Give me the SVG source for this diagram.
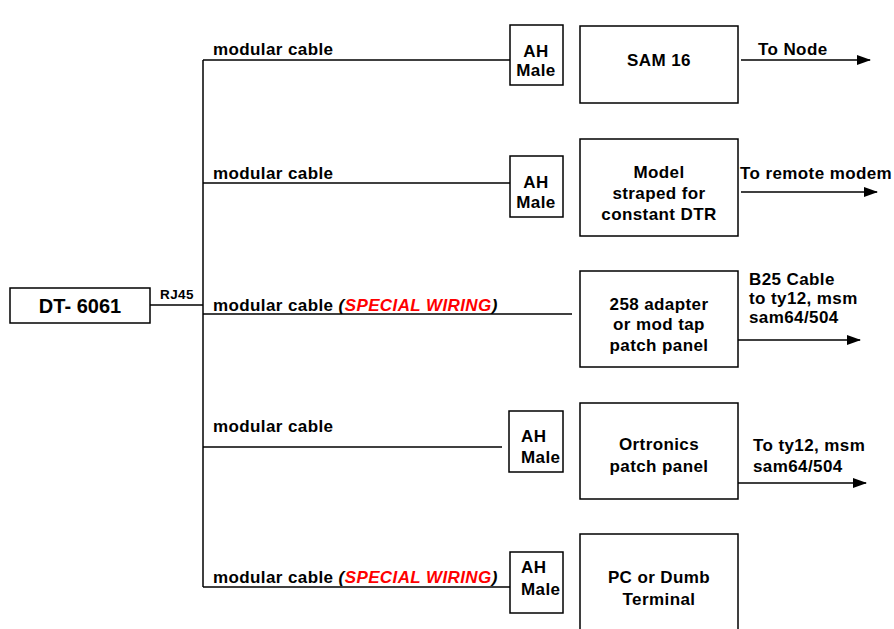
<svg xmlns="http://www.w3.org/2000/svg" width="894" height="629" viewBox="0 0 894 629">
<style>
text{font-family:"Liberation Sans",Arial,sans-serif;font-weight:bold;fill:#000;font-size:17px;letter-spacing:0.4px}
.box{fill:#fff;stroke:#000;stroke-width:1.5}
.ln{fill:none;stroke:#000;stroke-width:1.5}
.c{text-anchor:middle}
.red{fill:#ff0000;font-style:italic}
.it{font-style:italic}
</style>
<defs>
<marker id="arr" markerWidth="14" markerHeight="10" refX="13" refY="5" orient="auto" markerUnits="userSpaceOnUse">
<path d="M0,0 L14,5 L0,10 Z" fill="#000"/>
</marker>
</defs>
<g id="connectors">
<line class="ln" x1="150" y1="305" x2="203" y2="305"/>
<line class="ln" x1="203" y1="60" x2="203" y2="587"/>
<line class="ln" x1="203" y1="60" x2="510" y2="60"/>
<line class="ln" x1="203" y1="183" x2="510" y2="183"/>
<line class="ln" x1="203" y1="314" x2="572" y2="314"/>
<line class="ln" x1="203" y1="447" x2="502" y2="447"/>
<line class="ln" x1="203" y1="587" x2="510" y2="587"/>
<line class="ln" x1="741" y1="60" x2="870" y2="60" marker-end="url(#arr)"/>
<line class="ln" x1="741" y1="192" x2="877" y2="192" marker-end="url(#arr)"/>
<line class="ln" x1="738" y1="340" x2="860" y2="340" marker-end="url(#arr)"/>
<line class="ln" x1="738" y1="483" x2="866" y2="483" marker-end="url(#arr)"/>
<text x="160" y="299" style="font-size:13.5px">RJ45</text>
<text x="213" y="55">modular cable</text>
<text x="213" y="179">modular cable</text>
<text x="213" y="311">modular cable <tspan class="it">(</tspan><tspan class="red">SPECIAL WIRING</tspan><tspan class="it">)</tspan></text>
<text x="213" y="432">modular cable</text>
<text x="213" y="583">modular cable <tspan class="it">(</tspan><tspan class="red">SPECIAL WIRING</tspan><tspan class="it">)</tspan></text>
<text x="758" y="55">To Node</text>
<text x="740" y="179">To remote modem</text>
<text x="749" y="285">B25 Cable</text>
<text x="749" y="304">to ty12, msm</text>
<text x="749" y="323">sam64/504</text>
<text x="753" y="451">To ty12, msm</text>
<text x="753" y="472">sam64/504</text>
</g>
<g id="dt6061">
<rect class="box" x="10" y="288" width="140" height="35"/>
<text x="80" y="313" class="c" style="font-size:20px;letter-spacing:0">DT- 6061</text>
</g>
<g id="ah1">
<rect class="box" x="510" y="25" width="53" height="60"/>
<text x="536" y="57" class="c">AH</text>
<text x="536" y="76" class="c">Male</text>
</g>
<g id="sam16">
<rect class="box" x="580" y="26" width="158" height="77"/>
<text x="659" y="66" class="c">SAM 16</text>
</g>
<g id="ah2">
<rect class="box" x="510" y="156" width="53" height="61"/>
<text x="536" y="188" class="c">AH</text>
<text x="536" y="208" class="c">Male</text>
</g>
<g id="modem">
<rect class="box" x="580" y="139" width="158" height="97"/>
<text x="659" y="178" class="c">Model</text>
<text x="659" y="199" class="c">straped for</text>
<text x="659" y="220" class="c">constant DTR</text>
</g>
<g id="adapter258">
<rect class="box" x="580" y="271" width="158" height="96"/>
<text x="659" y="310" class="c">258 adapter</text>
<text x="659" y="330" class="c">or mod tap</text>
<text x="659" y="351" class="c">patch panel</text>
</g>
<g id="ah4">
<rect class="box" x="509" y="411" width="54" height="61"/>
<text x="521" y="442">AH</text>
<text x="521" y="463">Male</text>
</g>
<g id="ortronics">
<rect class="box" x="580" y="403" width="158" height="96"/>
<text x="659" y="450" class="c">Ortronics</text>
<text x="659" y="472" class="c">patch panel</text>
</g>
<g id="ah5">
<rect class="box" x="510" y="552" width="53" height="61"/>
<text x="521" y="573">AH</text>
<text x="521" y="595">Male</text>
</g>
<g id="pc">
<rect class="box" x="580" y="534" width="158" height="110"/>
<text x="659" y="583" class="c">PC or Dumb</text>
<text x="659" y="605" class="c">Terminal</text>
</g>
</svg>
